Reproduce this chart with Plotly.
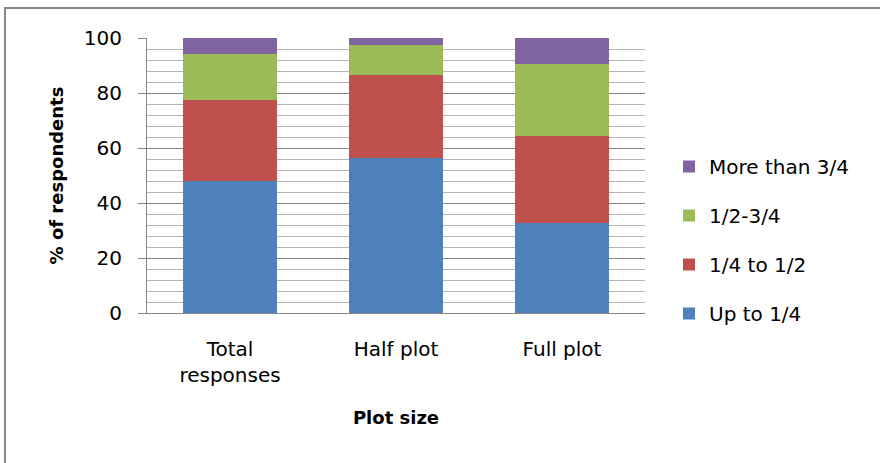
import plotly.graph_objects as go

categories = ["Total<br>responses", "Half plot", "Full plot"]
series_names = ["Up to 1/4", "1/4 to 1/2", "1/2-3/4", "More than 3/4"]
up_to_quarter = [48.0, 56.5, 32.6]
quarter_to_half = [29.5, 30.1, 31.8]
half_to_three_quarters = [16.7, 10.9, 26.2]
more_than_three_quarters = [5.8, 2.5, 9.4]
colors = ["#4F81BD", "#C0504D", "#9BBB59", "#8064A2"]
y_ticks = [0, 20, 40, 60, 80, 100]

FONT = "DejaVu Sans"
FS = 20
values = [up_to_quarter, quarter_to_half, half_to_three_quarters, more_than_three_quarters]

fig = go.Figure()
for i, (name, vals, col) in enumerate(zip(series_names, values, colors)):
    fig.add_trace(go.Bar(
        x=categories, y=vals, name=name, marker=dict(color=col, line=dict(width=0)),
        legendgroup=name, legendrank=1000 - i,
    ))

W, H = 880, 463
L, R, T, B = 147, 645, 38, 313
pw, ph = R - L, B - T

def px_x(x):
    return (x - L) / pw

def px_y(y):
    return (B - y) / ph

fig.update_layout(
    width=W, height=H,
    barmode="stack", bargap=0.43,
    margin=dict(l=L, r=W - R, t=T, b=H - B, autoexpand=False),
    paper_bgcolor="white", plot_bgcolor="white",
    font=dict(family=FONT, size=FS, color="black"),
    showlegend=True,
    legend=dict(
        traceorder="grouped", tracegroupgap=20,
        x=px_x(669), xanchor="left", y=px_y(147), yanchor="top",
        font=dict(family=FONT, size=FS, color="black"),
        bgcolor="rgba(0,0,0,0)", itemwidth=30,
    ),
    xaxis=dict(
        showgrid=False, showline=True, linecolor="#868686", linewidth=1,
        ticks="", ticklabelstandoff=18,
        tickfont=dict(family=FONT, size=FS),
        title=dict(text="<b>Plot size</b>", font=dict(family=FONT, size=18), standoff=25),
    ),
    yaxis=dict(
        range=[0, 100], tickvals=y_ticks, showgrid=True, gridcolor="#868686", gridwidth=1,
        showline=True, linecolor="#868686", linewidth=1,
        ticks="outside", ticklen=8, tickcolor="#868686", ticklabelstandoff=12,
        minor=dict(dtick=4, showgrid=True, gridcolor="#b4b4b4", gridwidth=1, ticks=""),
        tickfont=dict(family=FONT, size=FS),
        title=dict(text="<b>% of respondents</b>", font=dict(family=FONT, size=18), standoff=15),
        zeroline=False,
    ),
    shapes=[dict(
        type="rect", xref="paper", yref="paper",
        x0=px_x(5), x1=px_x(900), y0=px_y(475), y1=px_y(8),
        line=dict(color="#888888", width=2), fillcolor="rgba(0,0,0,0)", layer="below",
    )],
)

fig.write_html(
    "out.html",
    config={"displayModeBar": False},
    post_script="document.body.style.margin='0';document.body.style.overflow='hidden';",
)
